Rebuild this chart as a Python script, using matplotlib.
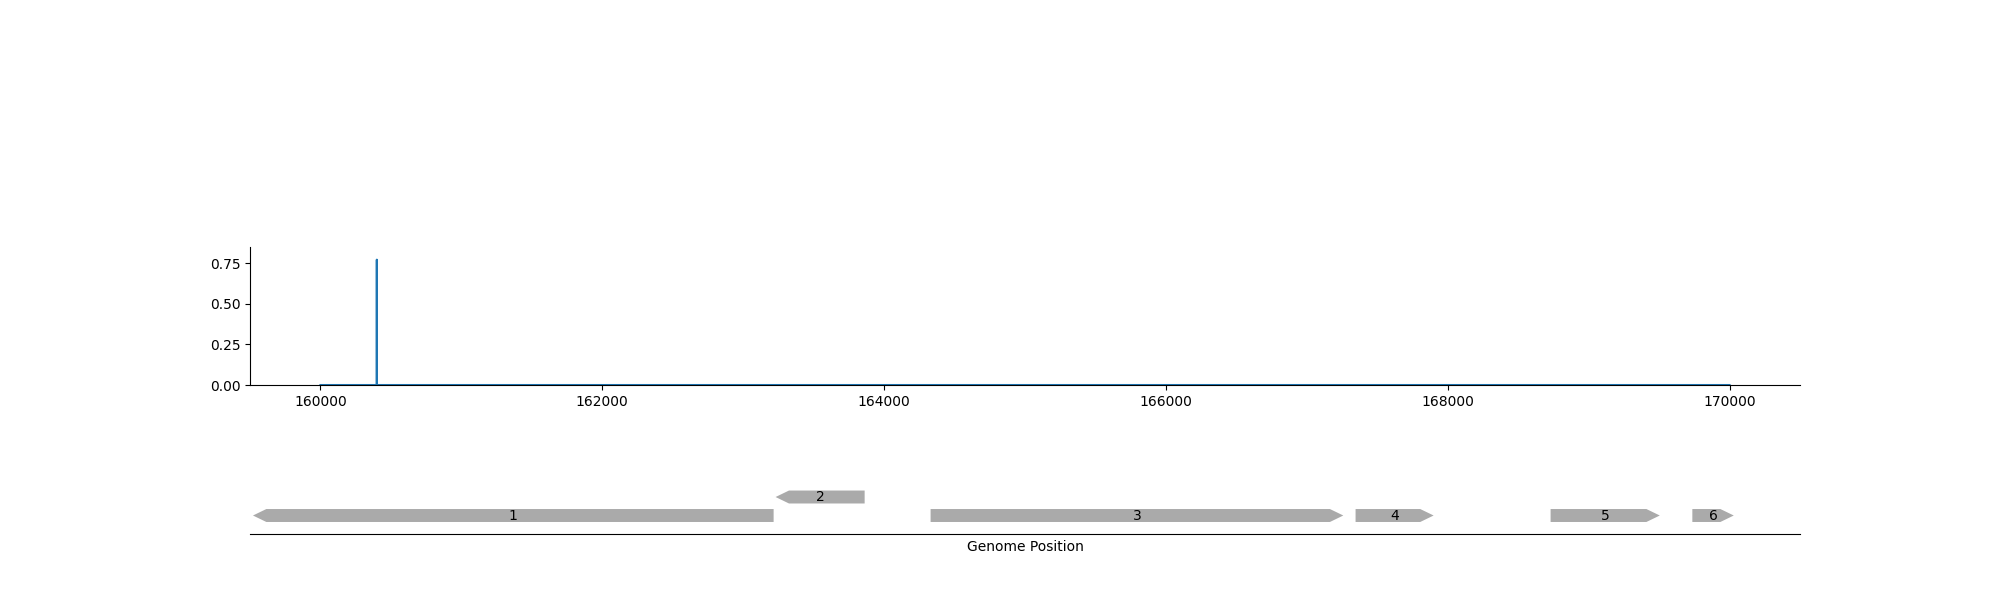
import matplotlib
matplotlib.use("Agg")
import matplotlib.pyplot as plt
from matplotlib.ticker import ScalarFormatter

# coverage track
cov_pos = [160000, 160399, 160400, 160401, 170000]
cov_val = [0.0, 0.0, 0.772, 0.0, 0.0]

# gene features: start, end, strand, level, label
gene_start = [159521, 163230, 164330, 167346, 168730, 169736]
gene_end = [163216, 163862, 167259, 167900, 169505, 170030]
gene_strand = [-1, -1, 1, 1, 1, 1]
gene_level = [0, 1, 0, 0, 0, 0]
gene_label = ["1", "2", "3", "4", "5", "6"]

fig = plt.figure(figsize=(20, 6), dpi=100)
ax1 = fig.add_axes([0.125, 0.3583, 0.775, 0.23])
ax2 = fig.add_axes([0.125, 0.11, 0.775, 0.1233])

ax1.plot(cov_pos, cov_val, color="#1f77b4", lw=1.5)
ax1.set_xlim(159500, 170500)
ax1.set_ylim(0, 0.85)
ax1.set_yticks([0, 0.25, 0.5, 0.75])
ax1.set_xticks(range(160000, 170001, 2000))
fmt = ScalarFormatter(useOffset=False)
ax1.xaxis.set_major_formatter(fmt)
ax1.spines["top"].set_visible(False)
ax1.spines["right"].set_visible(False)

head = 95  # arrow head length in bp
hh = 0.35
for s, e, st, lv, lb in zip(gene_start, gene_end, gene_strand, gene_level, gene_label):
    if st > 0:
        xs = [s, e - head, e, e - head, s]
    else:
        xs = [e, s + head, s, s + head, e]
    ys = [lv - hh, lv - hh, lv, lv + hh, lv + hh]
    ax2.fill(xs, ys, color="#aaaaaa", lw=0)
    ax2.text((s + e) / 2, lv, lb, ha="center", va="center", fontsize=10)

ax2.set_xlim(159500, 170500)
ax2.set_ylim(-1, 3)
for sp in ["top", "right", "left"]:
    ax2.spines[sp].set_visible(False)
ax2.set_yticks([])
ax2.set_xticks([])
ax2.set_xlabel("Genome Position")

fig.savefig("out.png", dpi=100)
